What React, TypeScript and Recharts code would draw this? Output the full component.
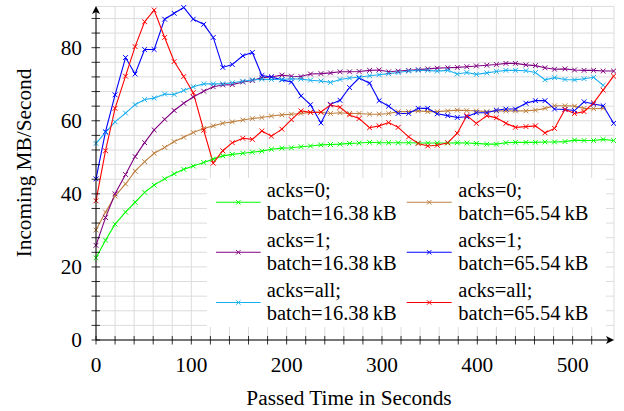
import React from 'react';
import { LineChart, Line, XAxis, YAxis, CartesianGrid } from 'recharts';

// Passed time in seconds (sample timestamps)
const times = [0, 10, 20, 31, 41, 51, 61, 72, 82, 92, 102, 113, 123, 133, 143, 154, 164, 174, 184, 195, 205, 215, 225, 236, 246, 256, 266, 276, 287, 297, 307, 317, 328, 338, 348, 358, 369, 379, 389, 399, 410, 420, 430, 440, 451, 461, 471, 481, 492, 502, 512, 522, 532, 543];

// Incoming MB/Second
const acks0Small = [22.5, 27.3, 31.7, 35.0, 37.7, 40.4, 42.4, 44.1, 45.5, 46.7, 47.6, 48.6, 49.5, 50.4, 50.8, 51.1, 51.4, 51.7, 52.2, 52.5, 52.6, 52.9, 53.1, 53.4, 53.5, 53.6, 53.8, 53.9, 54.1, 54.0, 54.0, 54.0, 54.0, 53.9, 53.9, 53.9, 53.9, 54.0, 53.9, 53.8, 53.6, 53.6, 54.0, 54.1, 54.1, 54.1, 54.2, 54.2, 54.3, 54.7, 54.6, 54.6, 54.9, 54.6];
const acks0Large = [30.1, 35.0, 39.4, 42.7, 46.2, 48.8, 51.1, 52.7, 54.3, 55.5, 56.8, 57.9, 58.6, 59.3, 59.7, 60.2, 60.6, 60.9, 61.3, 61.6, 61.8, 62.0, 62.3, 62.3, 62.0, 62.2, 62.0, 62.0, 61.8, 61.8, 62.0, 62.5, 62.5, 62.7, 62.5, 62.5, 62.7, 62.9, 62.8, 62.7, 62.5, 62.7, 62.7, 62.7, 62.7, 62.9, 63.4, 64.1, 64.1, 64.0, 63.4, 63.3, 63.4];
const acks1Small = [25.9, 33.5, 40.0, 45.3, 50.2, 54.0, 57.5, 60.4, 62.8, 64.8, 66.5, 68.1, 69.3, 69.8, 69.9, 70.6, 71.0, 71.8, 72.0, 72.5, 72.2, 72.1, 72.8, 72.9, 73.1, 73.4, 73.4, 73.5, 73.8, 73.9, 73.4, 73.6, 73.8, 74.0, 74.2, 74.4, 74.5, 74.6, 74.8, 75.0, 75.2, 75.4, 75.7, 75.7, 75.3, 75.1, 74.5, 74.1, 74.2, 73.9, 73.8, 73.8, 73.6, 73.6];
const acks1Large = [44.1, 57.0, 67.1, 77.3, 72.8, 79.5, 79.5, 87.8, 89.4, 91.0, 87.8, 86.4, 82.8, 74.6, 75.4, 77.8, 78.7, 72.4, 72.0, 71.2, 70.6, 66.8, 64.4, 59.4, 64.5, 65.6, 69.1, 71.7, 70.3, 65.5, 64.0, 62.0, 62.0, 63.4, 63.4, 61.9, 61.4, 60.9, 61.1, 62.2, 62.2, 62.9, 63.2, 63.2, 64.8, 65.5, 65.5, 63.2, 63.1, 62.8, 65.2, 64.6, 64.1, 59.3];
const acksAllSmall = [53.8, 56.8, 59.7, 62.1, 64.4, 65.8, 66.2, 67.3, 67.2, 68.3, 69.3, 70.1, 70.1, 70.1, 70.4, 70.8, 71.2, 71.4, 71.3, 71.3, 71.5, 71.4, 71.1, 70.9, 70.5, 71.3, 71.7, 71.9, 72.3, 72.6, 72.9, 73.2, 73.6, 73.8, 73.8, 73.6, 73.8, 72.8, 73.2, 72.7, 73.1, 73.5, 73.8, 73.8, 73.7, 73.2, 71.2, 71.8, 71.3, 71.2, 71.5, 71.9, 69.7];
const acksAllLarge = [38.1, 51.8, 63.4, 72.2, 80.3, 87.1, 90.3, 82.8, 76.2, 72.1, 67.7, 57.4, 48.4, 51.8, 54.0, 55.2, 54.9, 57.2, 55.8, 57.7, 60.3, 62.7, 62.3, 62.4, 64.3, 63.7, 61.6, 60.6, 58.1, 58.6, 59.5, 58.2, 55.6, 53.8, 53.1, 53.3, 54.0, 56.6, 61.4, 59.3, 61.4, 60.8, 59.3, 58.2, 58.4, 58.6, 56.7, 57.9, 63.1, 62.0, 62.5, 64.9, 68.4, 72.2];

const xTicks = [0, 20, 40, 60, 80, 100, 120, 140, 160, 180, 200, 220, 240, 260, 280, 300, 320, 340, 360, 380, 400, 420, 440, 460, 480, 500, 520];
const yTicks = [0, 4, 8, 12, 16, 20, 24, 28, 32, 36, 40, 44, 48, 52, 56, 60, 64, 68, 72, 76, 80, 84, 88];

const seriesKeys = ['s0', 's1', 's2', 's3', 's4', 's5'];
const seriesValues = [acks0Small, acks0Large, acks1Small, acks1Large, acksAllSmall, acksAllLarge];
const seriesColors = ['#00ff00', '#bf8040', '#800080', '#0000ff', '#1ab0f0', '#ff0000'];
const seriesAcks = ['acks=0;', 'acks=0;', 'acks=1;', 'acks=1;', 'acks=all;', 'acks=all;'];
const seriesBatch = ['batch=16.38\u2009kB', 'batch=65.54\u2009kB', 'batch=16.38\u2009kB', 'batch=65.54\u2009kB', 'batch=16.38\u2009kB', 'batch=65.54\u2009kB'];

const data = times.map((t, i) => {
  const row: any = { t };
  seriesKeys.forEach((k, j) => {
    const v = seriesValues[j][i];
    row[k] = v === undefined ? null : v;
  });
  return row;
});

const FONT = "'Liberation Serif', 'DejaVu Serif', serif";
const FS = 21.3;
const textStyle = { fontFamily: FONT, fontSize: FS };
const legendTextStyle = { fontFamily: FONT, fontSize: 20.5 };

const W = 624;
const H = 411;
const PLOT_LEFT = 96;
const PLOT_RIGHT = 614;
const PLOT_BOTTOM = 340;
const PLOT_TOP = 6.4;

const makeDot = (color: string) => (props: any) => {
  const { cx, cy, index } = props;
  if (cx == null || cy == null || isNaN(cx) || isNaN(cy)) return <g key={`d-${index}`} />;
  const s = 2.4;
  return (
    <path
      key={`d-${index}`}
      d={`M${cx - s},${cy - s}L${cx + s},${cy + s}M${cx - s},${cy + s}L${cx + s},${cy - s}`}
      stroke={color}
      strokeWidth={1}
      fill="none"
    />
  );
};

const XTick = (props: any) => {
  const { x, y, payload } = props;
  const major = payload.value % 100 === 0;
  return (
    <g>
      <line x1={x} x2={x} y1={y - 4} y2={y + 4.5} stroke="#000" strokeWidth={0.8} />
      {major && (
        <text x={x} y={y + 32} textAnchor="middle" style={textStyle} fill="#000">
          {payload.value}
        </text>
      )}
    </g>
  );
};

const YTick = (props: any) => {
  const { x, y, payload } = props;
  const major = payload.value % 20 === 0;
  return (
    <g>
      <line x1={x - 4.5} x2={x + 4} y1={y} y2={y} stroke="#000" strokeWidth={0.8} />
      {major && (
        <text x={x - 14} y={y + 7.2} textAnchor="end" style={textStyle} fill="#000">
          {payload.value}
        </text>
      )}
    </g>
  );
};

const legendRowY = [202.3, 252.3, 302.5];
const legendColX0 = [216, 406.7];
const legendColX1 = [260.7, 451.7];
const legendTextX = [266.7, 458.3];

export default function App() {
  return (
    <div style={{ position: 'absolute', left: 0, top: 0, width: W, height: H, background: '#fff' }}>
      <LineChart
        width={W}
        height={H}
        data={data}
        margin={{ top: PLOT_TOP, right: W - PLOT_RIGHT, bottom: 0, left: 0 }}
      >
        <CartesianGrid stroke="#dcdcdc" strokeWidth={1} />
        <XAxis
          dataKey="t"
          type="number"
          domain={[0, 543.4]}
          ticks={xTicks}
          interval={0}
          axisLine={false}
          tickLine={false}
          tickSize={0}
          tickMargin={0}
          height={H - PLOT_BOTTOM}
          tick={<XTick />}
        />
        <YAxis
          type="number"
          domain={[0, 91.3]}
          ticks={yTicks}
          interval={0}
          axisLine={false}
          tickLine={false}
          tickSize={0}
          tickMargin={0}
          width={PLOT_LEFT}
          tick={<YTick />}
        />
        {seriesKeys.map((k, j) => (
          <Line
            key={k}
            dataKey={k}
            type="linear"
            stroke={seriesColors[j]}
            strokeWidth={1.1}
            dot={makeDot(seriesColors[j])}
            activeDot={false}
            isAnimationActive={false}
            connectNulls={false}
          />
        ))}
      </LineChart>
      <svg
        width={W}
        height={H}
        style={{ position: 'absolute', left: 0, top: 0, pointerEvents: 'none' }}
      >
        {/* axis lines with arrows */}
        <line x1={PLOT_LEFT} y1={PLOT_BOTTOM} x2={PLOT_LEFT} y2={10} stroke="#000" strokeWidth={1} />
        <path d={`M${PLOT_LEFT},6 L${PLOT_LEFT + 4},14 L${PLOT_LEFT},12 L${PLOT_LEFT - 4},14 Z`} fill="#000" />
        <line x1={PLOT_LEFT} y1={PLOT_BOTTOM} x2={PLOT_RIGHT - 2} y2={PLOT_BOTTOM} stroke="#000" strokeWidth={1} />
        <path
          d={`M${PLOT_RIGHT},${PLOT_BOTTOM} L${PLOT_RIGHT - 8},${PLOT_BOTTOM - 4} L${PLOT_RIGHT - 6},${PLOT_BOTTOM} L${PLOT_RIGHT - 8},${PLOT_BOTTOM + 4} Z`}
          fill="#000"
        />
        {/* axis titles */}
        <text x={349} y={404.5} textAnchor="middle" style={textStyle} fill="#000">
          Passed Time in Seconds
        </text>
        <text transform="translate(31,163) rotate(-90)" x={0} y={0} textAnchor="middle" style={textStyle} fill="#000">
          Incoming MB/Second
        </text>
        {/* legend */}
        <rect x={207} y={178} width={399} height={149} fill="#fff" />
        {seriesKeys.map((k, j) => {
          const r = Math.floor(j / 2);
          const c = j % 2;
          const ly = legendRowY[r];
          const x0 = legendColX0[c];
          const x1 = legendColX1[c];
          const mx = (x0 + x1) / 2;
          const s = 2.2;
          return (
            <g key={`leg-${k}`}>
              <line x1={x0} x2={x1} y1={ly} y2={ly} stroke={seriesColors[j]} strokeWidth={1.1} />
              <path
                d={`M${mx - s},${ly - s}L${mx + s},${ly + s}M${mx - s},${ly + s}L${mx + s},${ly - s}`}
                stroke={seriesColors[j]}
                strokeWidth={1}
              />
              <text x={legendTextX[c]} y={ly - 5.8} style={legendTextStyle} fill="#000">
                {seriesAcks[j]}
              </text>
              <text x={legendTextX[c]} y={ly + 17.2} style={legendTextStyle} fill="#000">
                {seriesBatch[j]}
              </text>
            </g>
          );
        })}
      </svg>
    </div>
  );
}
